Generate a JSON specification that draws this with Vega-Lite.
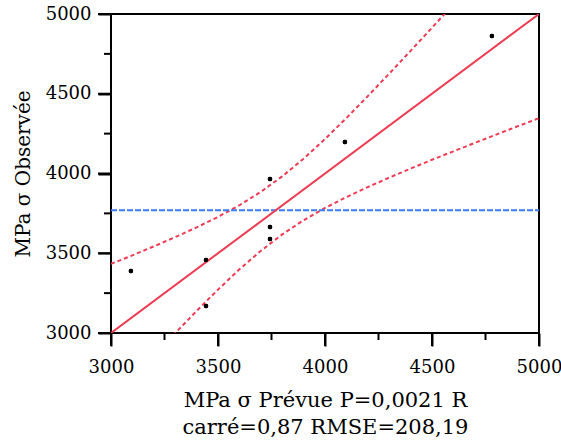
{
  "$schema": "https://vega.github.io/schema/vega-lite/v6.json",
  "width": 428,
  "height": 319,
  "autosize": {"type": "none"},
  "padding": {"left": 111, "top": 14, "right": 22, "bottom": 113},
  "background": "white",
  "config": {
    "view": {"stroke": "black", "strokeWidth": 2},
    "font": "DejaVu Serif"
  },
  "resolve": {"axis": {"x": "independent", "y": "independent"}},
  "datasets": {
    "points": [
      {"pred": 3093, "obs": 3389},
      {"pred": 3444, "obs": 3458},
      {"pred": 3444, "obs": 3169},
      {"pred": 3743, "obs": 3965},
      {"pred": 3743, "obs": 3665},
      {"pred": 3743, "obs": 3589},
      {"pred": 4093, "obs": 4197},
      {"pred": 4780, "obs": 4862}
    ],
    "fit": [
      {"pred": 3000, "obs": 3000},
      {"pred": 5000, "obs": 5000}
    ],
    "band": [
      {"pred": 3000, "upper": 3433, "lower": 2567},
      {"pred": 3100, "upper": 3487, "lower": 2713},
      {"pred": 3200, "upper": 3543, "lower": 2857},
      {"pred": 3300, "upper": 3601, "lower": 2999},
      {"pred": 3400, "upper": 3662, "lower": 3138},
      {"pred": 3500, "upper": 3728, "lower": 3272},
      {"pred": 3600, "upper": 3801, "lower": 3399},
      {"pred": 3700, "upper": 3885, "lower": 3515},
      {"pred": 3800, "upper": 3982, "lower": 3618},
      {"pred": 3900, "upper": 4093, "lower": 3707},
      {"pred": 4000, "upper": 4216, "lower": 3784},
      {"pred": 4100, "upper": 4348, "lower": 3852},
      {"pred": 4200, "upper": 4485, "lower": 3915},
      {"pred": 4300, "upper": 4626, "lower": 3974},
      {"pred": 4400, "upper": 4769, "lower": 4031},
      {"pred": 4500, "upper": 4914, "lower": 4086},
      {"pred": 4600, "upper": 5061, "lower": 4139},
      {"pred": 4700, "upper": 5208, "lower": 4192},
      {"pred": 4800, "upper": 5356, "lower": 4244},
      {"pred": 4900, "upper": 5504, "lower": 4296},
      {"pred": 5000, "upper": 5653, "lower": 4347}
    ],
    "mean": [
      {"pred": 3000, "obs": 3770},
      {"pred": 5000, "obs": 3770}
    ],
    "majorTicks": [
      {"v": 3000}, {"v": 3500}, {"v": 4000}, {"v": 4500}, {"v": 5000}
    ],
    "minorTicks": [
      {"v": 3250}, {"v": 3750}, {"v": 4250}, {"v": 4750}
    ]
  },
  "layer": [
    {
      "data": {"name": "points"},
      "mark": {"type": "circle", "color": "black", "opacity": 1, "size": 20},
      "encoding": {
        "x": {
          "field": "pred", "type": "quantitative",
          "scale": {"domain": [3000, 5000], "nice": false, "zero": false},
          "axis": {
            "orient": "bottom",
            "values": [3000, 3500, 4000, 4500, 5000],
            "domain": false, "grid": false, "ticks": true, "zindex": 1,
            "tickSize": 13, "tickColor": "black", "tickWidth": 2, "tickOpacity": 1,
            "labelColor": "black", "labelFont": "DejaVu Serif", "labelFontSize": 18, "labelFlush": false,
            "format": "d",
            "labelPadding": 12,
            "title": ["MPa σ Prévue P=0,0021 R", "carré=0,87 RMSE=208,19"],
            "titleColor": "black", "titleFont": "DejaVu Serif", "titleFontSize": 21, "titleFontWeight": "normal",
            "titlePadding": 13,
            "titleLineHeight": 27
          }
        },
        "y": {
          "field": "obs", "type": "quantitative",
          "scale": {"domain": [3000, 5000], "nice": false, "zero": false},
          "axis": {
            "orient": "left",
            "values": [3000, 3500, 4000, 4500, 5000],
            "domain": false, "grid": false, "ticks": true, "zindex": 1,
            "tickSize": 13, "tickColor": "black", "tickWidth": 2, "tickOpacity": 1,
            "labelColor": "black", "labelFont": "DejaVu Serif", "labelFontSize": 18, "labelFlush": false,
            "format": "d",
            "labelPadding": 7,
            "title": "MPa σ Observée",
            "titleColor": "black", "titleFont": "DejaVu Serif", "titleFontSize": 20, "titleFontWeight": "normal",
            "titlePadding": 12
          }
        }
      }
    },
    {
      "data": {"name": "majorTicks"},
      "mark": {"type": "rule", "color": "black", "strokeWidth": 2, "y2Offset": 13, "clip": false},
      "encoding": {
        "x": {"field": "v", "type": "quantitative", "axis": null},
        "y": {"datum": 3000, "type": "quantitative", "axis": null},
        "y2": {"datum": 3000}
      }
    },
    {
      "data": {"name": "minorTicks"},
      "mark": {"type": "rule", "color": "black", "strokeWidth": 2, "y2Offset": 7, "clip": false},
      "encoding": {
        "x": {"field": "v", "type": "quantitative", "axis": null},
        "y": {"datum": 3000, "type": "quantitative", "axis": null},
        "y2": {"datum": 3000}
      }
    },
    {
      "data": {"name": "majorTicks"},
      "mark": {"type": "rule", "color": "black", "strokeWidth": 2, "x2Offset": -13, "clip": false},
      "encoding": {
        "y": {"field": "v", "type": "quantitative", "axis": null},
        "x": {"datum": 3000, "type": "quantitative", "axis": null},
        "x2": {"datum": 3000}
      }
    },
    {
      "data": {"name": "minorTicks"},
      "mark": {"type": "rule", "color": "black", "strokeWidth": 2, "x2Offset": -7, "clip": false},
      "encoding": {
        "y": {"field": "v", "type": "quantitative", "axis": null},
        "x": {"datum": 3000, "type": "quantitative", "axis": null},
        "x2": {"datum": 3000}
      }
    },
    {
      "data": {"name": "band"},
      "mark": {"type": "line", "color": "#EE3B52", "strokeWidth": 2, "strokeDash": [4, 3], "clip": true},
      "encoding": {
        "x": {"field": "pred", "type": "quantitative", "axis": null},
        "y": {"field": "upper", "type": "quantitative", "axis": null}
      }
    },
    {
      "data": {"name": "band"},
      "mark": {"type": "line", "color": "#EE3B52", "strokeWidth": 2, "strokeDash": [4, 3], "clip": true},
      "encoding": {
        "x": {"field": "pred", "type": "quantitative", "axis": null},
        "y": {"field": "lower", "type": "quantitative", "axis": null}
      }
    },
    {
      "data": {"name": "mean"},
      "mark": {"type": "line", "color": "#3B7BF2", "strokeWidth": 2, "strokeDash": [6, 2], "clip": true},
      "encoding": {
        "x": {"field": "pred", "type": "quantitative", "axis": null},
        "y": {"field": "obs", "type": "quantitative", "axis": null}
      }
    },
    {
      "data": {"name": "fit"},
      "mark": {"type": "line", "color": "#EE3B52", "strokeWidth": 2, "clip": true},
      "encoding": {
        "x": {"field": "pred", "type": "quantitative", "axis": null},
        "y": {"field": "obs", "type": "quantitative", "axis": null}
      }
    },
    {
      "data": {"name": "points"},
      "mark": {"type": "circle", "color": "black", "opacity": 1, "size": 20},
      "encoding": {
        "x": {"field": "pred", "type": "quantitative", "axis": null},
        "y": {"field": "obs", "type": "quantitative", "axis": null}
      }
    }
  ]
}
